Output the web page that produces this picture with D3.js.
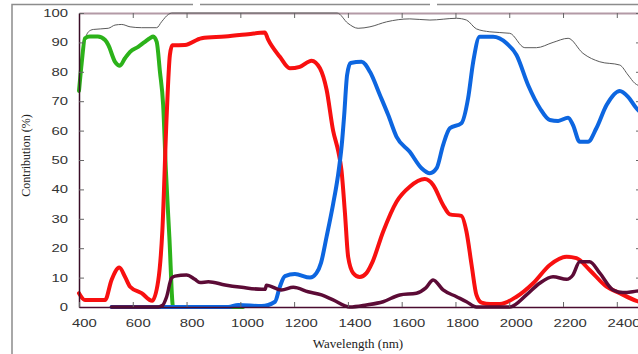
<!DOCTYPE html>
<html>
<head>
<meta charset="utf-8">
<script src="https://cdn.jsdelivr.net/npm/d3@7"></script>
<style>
  html, body { margin: 0; padding: 0; background: #fff; }
  svg { display: block; }
</style>
</head>
<body>
<div id="chart"></div>
<script>
/* ---------------------------------------------
   Data (wavelength in nm, contribution in %)
--------------------------------------------- */
const xTicks = [400, 600, 800, 1000, 1200, 1400, 1600, 1800, 2000, 2200, 2400];
const yTicks = [0, 10, 20, 30, 40, 50, 60, 70, 80, 90, 100];

// thin grey envelope
const greyNm  = [415, 435, 453, 509, 534, 559, 590, 633, 689, 707, 732, 745, 1360, 1400, 1438, 1482, 1544, 1630, 1705, 1804, 1841, 1878, 1928, 2002, 2058, 2101, 2163, 2219, 2274, 2337, 2411, 2442, 2467, 2490];
const greyVal = [89, 93.6, 94.4, 94.8, 95.9, 96.1, 95.3, 95, 95, 97, 99.5, 100, 100, 96.5, 94.8, 95.3, 97, 98, 97.6, 98.2, 97.6, 94.6, 93.6, 93.1, 88.2, 88.2, 90, 91.4, 86.3, 83.4, 82.3, 78.9, 76.1, 75];

// green
const greenNm  = [400, 410, 422, 440, 470, 497, 509, 534, 552, 571, 590, 620, 645, 665, 676, 689, 701, 713, 723, 736, 750, 800, 900, 1010];
const greenVal = [73.5, 83, 91.4, 92, 92, 90.8, 89.1, 83.4, 82.1, 84.6, 86.8, 88.5, 90.2, 91.5, 92, 90.2, 80, 68.7, 46.6, 23.9, 0, 0, 0, 0];

// red
const redNm  = [400, 422, 497, 521, 550, 571, 590, 633, 672, 695, 710, 726, 738, 747, 794, 856, 943, 1029, 1091, 1103, 1147, 1184, 1221, 1265, 1296, 1321, 1345, 1364, 1376, 1389, 1401, 1420, 1444, 1469, 1490, 1531, 1581, 1630, 1686, 1717, 1754, 1779, 1822, 1841, 1860, 1878, 1897, 1930, 1965, 2027, 2089, 2151, 2213, 2250, 2299, 2362, 2411, 2473, 2490];
const redVal = [4.7, 2.4, 2.4, 9.2, 13.4, 10.3, 6.9, 4.7, 2.1, 9.2, 26, 65, 85.7, 89, 89.1, 91.4, 92, 92.8, 93.4, 91, 85.1, 81.2, 81.7, 83.8, 81.2, 73.8, 60, 53, 46.6, 32, 17, 11.5, 10.2, 11.5, 15, 25.6, 35.8, 40.9, 43.5, 41.5, 34.7, 31.5, 31, 25.6, 14.3, 4.1, 1.5, 1, 1, 3.5, 8.1, 14.3, 17.1, 16.6, 12.6, 6.9, 4.7, 2.1, 1.6];

// blue
const blueNm  = [521, 955, 992, 1079, 1129, 1147, 1166, 1203, 1259, 1283, 1300, 1321, 1345, 1362, 1377, 1386, 1397, 1410, 1451, 1482, 1519, 1550, 1581, 1630, 1674, 1705, 1730, 1754, 1779, 1822, 1847, 1866, 1890, 1940, 1990, 2027, 2070, 2114, 2151, 2182, 2219, 2237, 2262, 2293, 2324, 2362, 2411, 2442, 2473, 2490];
const blueVal = [0, 0, 0.7, 0.3, 1.8, 6.9, 10.5, 11.2, 10, 11.5, 15, 24, 35, 44, 55, 65, 78.9, 83, 83.4, 80, 72.1, 65.3, 57.9, 52.8, 47.2, 45.5, 47.2, 55.1, 60.8, 62.5, 71, 83.4, 91.9, 91.9, 89.7, 85.7, 75.5, 67.6, 63.6, 63.3, 64.4, 61.9, 56.2, 56.2, 60.8, 68.7, 73.5, 71.5, 67.6, 66];

// dark maroon
const maroonNm  = [521, 695, 710, 726, 744, 757, 800, 831, 850, 881, 943, 1005, 1079, 1092, 1097, 1153, 1197, 1252, 1302, 1345, 1407, 1469, 1531, 1593, 1655, 1690, 1717, 1754, 1804, 1841, 1878, 2002, 2064, 2113, 2163, 2213, 2237, 2262, 2299, 2337, 2386, 2423, 2473, 2490];
const maroonVal = [0, 0, 0.5, 3.5, 9.8, 10.5, 10.9, 9.4, 8.3, 8.6, 7.5, 6.7, 6, 6, 7.4, 5.8, 6.7, 5.2, 4.1, 2.4, 0, 0.7, 1.8, 4.1, 4.7, 6.5, 9.2, 5.8, 3.5, 1.8, 0, 0, 4.1, 8.1, 10.3, 9.4, 10.9, 15.4, 15.4, 11.5, 5.8, 4.9, 5.4, 5.6];

/* ---------------------------------------------
   Chart setup
--------------------------------------------- */
const width = 638, height = 354;
const plot = { left: 79, right: 641, top: 13, bottom: 307 };

const svg = d3.select("#chart").append("svg")
    .attr("width", width).attr("height", height);

svg.append("rect").attr("width", width).attr("height", height).attr("fill", "#fff");

// outer figure frame (with the little gaps seen in the scan)
svg.append("path")
    .attr("d", "M12,354 V4.5 H193 M200,4.5 H430 M437,4.5 H638")
    .attr("fill", "none").attr("stroke", "#8c8c8c").attr("stroke-width", 1.5);

const x = d3.scaleLinear().domain([400, 2490]).range([plot.left, plot.right]);
const y = d3.scaleLinear().domain([0, 100]).range([plot.bottom, plot.top]);

// stretch a label horizontally, the scanned font is wide
function stretch(sel, shift) {
    sel.each(function () {
        const w = this.getComputedTextLength();
        const t = d3.select(this)
            .attr("textLength", w * 1.35)
            .attr("lengthAdjust", "spacingAndGlyphs");
        if (shift) t.attr("dx", w * 1.35 * 0.2);
    });
}

// top frame line + inner ticks
const topAxis = svg.append("g")
    .attr("transform", `translate(0,${plot.top})`)
    .call(d3.axisTop(x).tickValues(xTicks).tickSize(-5).tickSizeOuter(0).tickFormat(""));
topAxis.select(".domain").attr("stroke", "#b39aa6").attr("stroke-width", 2);
topAxis.selectAll(".tick line").attr("stroke", "#666");

// right side inner ticks
const rightAxis = svg.append("g")
    .attr("transform", `translate(${plot.right},0)`)
    .call(d3.axisRight(y).tickValues(yTicks).tickSize(-5).tickSizeOuter(0).tickFormat(""));
rightAxis.select(".domain").attr("stroke", "#777");
rightAxis.selectAll(".tick line").attr("stroke", "#666");

/* ---------------------------------------------
   Lines
--------------------------------------------- */
const line = d3.line()
    .x(d => x(d[0]))
    .y(d => y(d[1]))
    .curve(d3.curveMonotoneX);

const zip = (a, b) => a.map((v, i) => [v, b[i]]);

const series = [
    { data: zip(greyNm, greyVal), color: "#5a5a5a", w: 1 },
    { data: zip(greenNm, greenVal), color: "#2cb21a", w: 4 },
    { data: zip(redNm, redVal), color: "#f81010", w: 4 },
    { data: zip(blueNm, blueVal), color: "#0d66e0", w: 4 },
    { data: zip(maroonNm, maroonVal), color: "#5c0b36", w: 3.5 }
];

const lineGroup = svg.append("g");
series.forEach(s => {
    lineGroup.append("path")
        .datum(s.data)
        .attr("d", line)
        .attr("fill", "none")
        .attr("stroke", s.color)
        .attr("stroke-width", s.w)
        .attr("stroke-linejoin", "round")
        .attr("stroke-linecap", "round");
});

/* ---------------------------------------------
   Axes with labels
--------------------------------------------- */
const yAxis = svg.append("g")
    .attr("transform", `translate(${plot.left},0)`)
    .call(d3.axisLeft(y).tickValues(yTicks).tickSize(-5).tickSizeOuter(0).tickPadding(11).tickFormat(d3.format("d")));
yAxis.select(".domain").attr("stroke", "#3a0d26").attr("stroke-width", 1.5);
yAxis.selectAll(".tick line").attr("stroke", "#666");
yAxis.selectAll(".tick text")
    .attr("font-family", "'Liberation Sans', Arial, sans-serif")
    .attr("font-size", 11).attr("fill", "#333")
    .call(stretch, false);

const xAxis = svg.append("g")
    .attr("transform", `translate(0,${plot.bottom})`)
    .call(d3.axisBottom(x).tickValues(xTicks).tickSize(-5).tickSizeOuter(0).tickPadding(12.5).tickFormat(d3.format("d")));
xAxis.select(".domain").attr("stroke", "#4a0c30").attr("stroke-width", 1.5);
xAxis.selectAll(".tick line").attr("stroke", "#666");
xAxis.selectAll(".tick text")
    .attr("font-family", "'Liberation Sans', Arial, sans-serif")
    .attr("font-size", 11).attr("fill", "#333")
    .call(stretch, true);

// axis titles
svg.append("text")
    .attr("x", (plot.left + 637) / 2)
    .attr("y", 348)
    .attr("text-anchor", "middle")
    .attr("font-family", "'Liberation Serif', 'Times New Roman', serif")
    .attr("font-size", 13)
    .attr("fill", "#222")
    .text("Wavelength (nm)");

svg.append("text")
    .attr("transform", "translate(30,155.5) rotate(-90)")
    .attr("text-anchor", "middle")
    .attr("font-family", "'Liberation Serif', 'Times New Roman', serif")
    .attr("font-size", 12)
    .attr("fill", "#222")
    .text("Contribution (%)");
</script>
</body>
</html>
